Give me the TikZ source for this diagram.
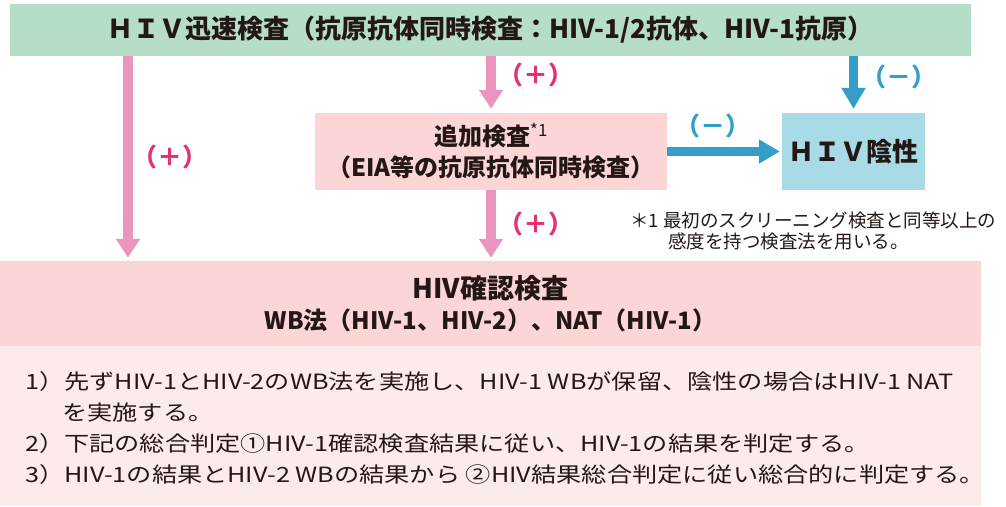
\documentclass[tikz,border=0pt]{standalone}
\usepackage{fontspec}
\setmainfont{Noto Sans CJK JP}
\newfontfamily\notefont[FakeStretch=1.2]{Noto Sans CJK JP}
\usepackage{xcolor}
\usepackage{tikz}
\usetikzlibrary{positioning,calc,arrows.meta}

\definecolor{greenbox}{HTML}{B5DDC7}
\definecolor{pinkbox}{HTML}{FCD5D7}
\definecolor{notebox}{HTML}{FDEBEC}
\definecolor{negbox}{HTML}{A8DBE6}
\definecolor{pinkarr}{HTML}{EB94BE}
\definecolor{pinklab}{HTML}{E5326B}
\definecolor{bluearr}{HTML}{339ECA}
\definecolor{ink}{HTML}{231815}

\tikzset{
    box/.style={inner sep=0pt, align=center, text=ink},
    posarrow/.style={draw=pinkarr, line width=9.5pt, -{Triangle[length=19pt,width=23pt]}},
    negarrow/.style={draw=bluearr, line width=9.5pt, -{Triangle[length=21pt,width=23pt]}},
    poslabel/.style={text=pinklab, font=\bfseries\fontsize{25}{25}\selectfont},
    neglabel/.style={text=bluearr, font=\bfseries\fontsize{25}{25}\selectfont},
    noteline/.style={anchor=west, inner sep=0pt, text=ink, font=\notefont\fontsize{21}{21}\selectfont}
}

\begin{document}
\begin{tikzpicture}[x=1pt,y=-1pt]
    \useasboundingbox (0,0) rectangle (1006,506);

    % Rapid test
    \node[box, fill=greenbox, minimum width=961pt, minimum height=52pt,
          font=\bfseries\fontsize{26}{26}\selectfont] (rapid) at (490.5,30)
        {ＨＩＶ迅速検査（抗原抗体同時検査：HIV-1/2抗体、HIV-1抗原）};

    % Additional test and negative result
    \node[box, fill=pinkbox, minimum width=352pt, minimum height=77pt,
          font=\bfseries\fontsize{24}{31}\selectfont] (extra) at (491,151.5)
        {追加検査\textsuperscript{\mdseries *1}\\（EIA等の抗原抗体同時検査）};
    \node[box, fill=negbox, minimum width=143pt, minimum height=77pt,
          font=\bfseries\fontsize{26}{26}\selectfont] (neg) at (853.5,151.5)
        {ＨＩＶ陰性};

    % Confirmation test
    \node[box, fill=pinkbox, minimum width=981pt, minimum height=85pt,
          font=\bfseries\fontsize{24}{31}\selectfont] (confirm) at (490.5,303.5)
        {{\fontsize{27}{27}\selectfont HIV確認検査}\\WB法（HIV-1、HIV-2）、NAT（HIV-1）};
    \node[box, fill=notebox, minimum width=981pt, minimum height=160pt] (notes) at (490.5,426) {};

    % Arrows
    \coordinate (leftx) at (128,0);
    \draw[posarrow, shorten >=3pt] (leftx |- rapid.south) -- (leftx |- confirm.north);
    \draw[posarrow, shorten >=4pt] (rapid.south -| extra.north) -- (extra.north);
    \draw[posarrow, shorten >=3pt] (extra.south) -- (extra.south |- confirm.north);
    \draw[negarrow, shorten >=4pt] (rapid.south -| neg.north) -- (neg.north);
    \draw[negarrow, shorten >=2pt] (extra.east) -- (neg.west);

    % Labels
    \node[poslabel] (plusleft) at (170,157) {（＋）};
    \node[poslabel] (plustop) at (536,75) {（＋）};
    \node[poslabel] (plusbottom) at (536,224) {（＋）};
    \node[neglabel] (minustop) at (899,77) {（－）};
    \node[neglabel] (minusmid) at (713,126) {（－）};

    % Footnote
    \node[noteline, font=\fontsize{18.5}{18.5}\selectfont] (foot1) at (630,220) {＊1 最初のスクリーニング検査と同等以上の};
    \node[noteline, font=\fontsize{18.5}{18.5}\selectfont] (foot2) at (668,241) {感度を持つ検査法を用いる。};

    % Notes
    \node[noteline] (note1) at (25,382) {1）先ずHIV-1とHIV-2のWB法を実施し、HIV-1 WBが保留、陰性の場合はHIV-1 NAT};
    \node[noteline] (note1b) at (62,413) {を実施する。};
    \node[noteline] (note2) at (25,444) {2）下記の総合判定①HIV-1確認検査結果に従い、HIV-1の結果を判定する。};
    \node[noteline] (note3) at (25,475) {3）HIV-1の結果とHIV-2 WBの結果から ②HIV結果総合判定に従い総合的に判定する。};
\end{tikzpicture}
\end{document}
